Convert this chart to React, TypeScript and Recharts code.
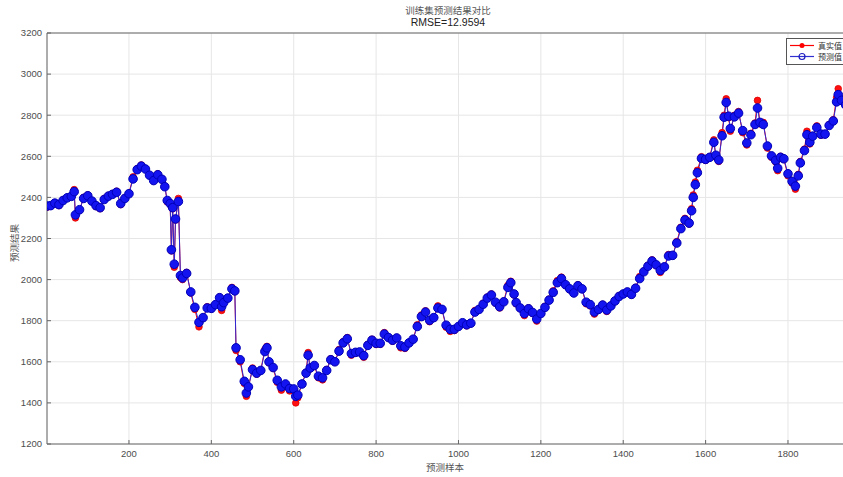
import React from 'react';
import { LineChart, Line, XAxis, YAxis, CartesianGrid } from 'recharts';

// sample numbers along the training set
const sampleNo = [
  1, 10, 20, 30, 40, 50, 60, 67, 70, 80,
  90, 100, 110, 120, 130, 140, 150, 160, 170, 180,
  190, 200, 210, 220, 230, 240, 250, 260, 270, 280,
  287, 293, 300, 303, 306, 310, 313, 320, 325, 330,
  340, 350, 360, 370, 380, 390, 400, 410, 420, 425,
  430, 440, 450, 457, 460, 470, 480, 485, 490, 500,
  510, 520, 530, 535, 540, 550, 560, 570, 580, 590,
  600, 605, 610, 620, 630, 635, 640, 650, 660, 670,
  680, 690, 700, 710, 720, 730, 740, 750, 760, 770,
  780, 790, 800, 810, 820, 830, 840, 850, 860, 870,
  880, 890, 900, 910, 920, 930, 940, 950, 960, 970,
  980, 990, 1000, 1010, 1020, 1030, 1040, 1050, 1060, 1070,
  1080, 1090, 1100, 1110, 1120, 1127, 1135, 1140, 1150, 1160,
  1170, 1180, 1190, 1200, 1210, 1220, 1230, 1240, 1250, 1260,
  1270, 1280, 1290, 1300, 1310, 1320, 1330, 1340, 1350, 1360,
  1370, 1380, 1390, 1400, 1410, 1420, 1430, 1440, 1450, 1460,
  1470, 1480, 1490, 1500, 1510, 1520, 1530, 1540, 1550, 1560,
  1566, 1570, 1575, 1580, 1590, 1600, 1610, 1620, 1625, 1632,
  1640, 1645, 1650, 1656, 1660, 1670, 1680, 1690, 1700, 1710,
  1720, 1726, 1732, 1740, 1750, 1760, 1770, 1775, 1782, 1790,
  1800, 1810, 1818, 1825, 1830, 1840, 1846, 1853, 1860, 1870,
  1880, 1890, 1900, 1910, 1918, 1922, 1930, 1940,
];

// 真实值
const actualValue = [
  2352, 2358, 2375, 2360, 2388, 2400, 2405, 2438, 2300, 2338,
  2400, 2412, 2380, 2355, 2345, 2395, 2410, 2418, 2430, 2365,
  2398, 2420, 2500, 2540, 2558, 2540, 2510, 2480, 2515, 2490,
  2455, 2378, 2365, 2140, 2345, 2060, 2290, 2395, 2010, 2000,
  2035, 1935, 1855, 1770, 1812, 1868, 1858, 1880, 1915, 1850,
  1890, 1912, 1962, 1942, 1655, 1600, 1495, 1432, 1475, 1570,
  1540, 1560, 1660, 1675, 1595, 1568, 1500, 1462, 1488, 1458,
  1460, 1400, 1425, 1495, 1548, 1645, 1565, 1580, 1522, 1512,
  1562, 1615, 1598, 1660, 1698, 1718, 1632, 1642, 1645, 1622,
  1685, 1710, 1684, 1685, 1742, 1715, 1700, 1718, 1668, 1665,
  1695, 1712, 1780, 1828, 1848, 1795, 1812, 1872, 1855, 1768,
  1748, 1752, 1772, 1790, 1775, 1785, 1850, 1858, 1885, 1915,
  1930, 1885, 1862, 1895, 1972, 1992, 1925, 1882, 1858, 1825,
  1862, 1835, 1798, 1835, 1870, 1905, 1945, 1995, 2012, 1972,
  1950, 1932, 1975, 1952, 1882, 1872, 1832, 1852, 1880, 1845,
  1875, 1900, 1922, 1932, 1942, 1925, 1962, 2015, 2042, 2070,
  2096, 2068, 2035, 2065, 2122, 2115, 2185, 2255, 2298, 2270,
  2345, 2412, 2475, 2532, 2598, 2580, 2598, 2680, 2595, 2575,
  2715, 2800, 2880, 2788, 2722, 2800, 2818, 2715, 2655, 2712,
  2762, 2872, 2758, 2765, 2640, 2595, 2572, 2530, 2600, 2585,
  2505, 2470, 2440, 2512, 2575, 2635, 2722, 2660, 2700, 2748,
  2702, 2705, 2755, 2778, 2885, 2929, 2870, 2848,
];

// 预测值
const predictedValue = [
  2358, 2360, 2372, 2365, 2385, 2398, 2405, 2428, 2315, 2340,
  2395, 2408, 2382, 2360, 2350, 2390, 2406, 2415, 2425, 2370,
  2395, 2418, 2490, 2535, 2552, 2538, 2508, 2482, 2510, 2488,
  2452, 2385, 2370, 2145, 2350, 2075, 2295, 2380, 2020, 2008,
  2030, 1940, 1865, 1792, 1815, 1862, 1860, 1878, 1912, 1868,
  1888, 1910, 1955, 1945, 1668, 1610, 1505, 1448, 1478, 1562,
  1545, 1558, 1650, 1668, 1600, 1572, 1510, 1478, 1492, 1470,
  1468, 1432, 1438, 1492, 1545, 1632, 1570, 1582, 1530, 1522,
  1558, 1610, 1600, 1652, 1692, 1712, 1640, 1646, 1648, 1630,
  1680, 1705, 1690, 1690, 1735, 1718, 1705, 1716, 1678, 1672,
  1692, 1710, 1772, 1820, 1842, 1802, 1815, 1862, 1855, 1778,
  1758, 1758, 1772, 1790, 1780, 1788, 1842, 1855, 1880, 1910,
  1925, 1890, 1868, 1892, 1962, 1985, 1930, 1888, 1862, 1835,
  1858, 1840, 1808, 1835, 1865, 1900, 1938, 1985, 2005, 1975,
  1955, 1935, 1970, 1955, 1890, 1878, 1842, 1855, 1876, 1852,
  1872, 1896, 1918, 1930, 1940, 1928, 1958, 2005, 2038, 2065,
  2090, 2072, 2045, 2062, 2115, 2118, 2178, 2248, 2290, 2275,
  2335, 2400, 2462, 2520, 2590, 2585, 2595, 2668, 2605, 2582,
  2700, 2790, 2862, 2795, 2735, 2792, 2810, 2725, 2665, 2705,
  2755, 2835, 2765, 2755, 2650, 2602, 2580, 2542, 2595, 2588,
  2515, 2478, 2455, 2505, 2568, 2628, 2705, 2668, 2698, 2740,
  2708, 2708, 2750, 2772, 2865, 2900, 2872, 2850,
];

const xTicks = [200, 400, 600, 800, 1000, 1200, 1400, 1600, 1800];
const yTicks = [1200, 1400, 1600, 1800, 2000, 2200, 2400, 2600, 2800, 3000, 3200];
const seriesNames = ['真实值', '预测值'];
const chartTitle = '训练集预测结果对比';
const rmseText = 'RMSE=12.9594';
const xLabel = '预测样本';
const yLabel = '预测结果';

const RED = '#ff0000';
const AXIS = '#666666';
const TICK_FONT = { fontSize: 9.5, fill: '#4d4d4d', fontFamily: '"Liberation Sans", Arial, sans-serif' };
const CJK = '"Noto Sans CJK SC", sans-serif';

const data = sampleNo.map((s, i) => ({
  sample: s,
  actual: actualValue[i],
  predicted: predictedValue[i],
}));

const RedDot = (props: any) => {
  const { cx, cy, index } = props;
  if (cx == null || cy == null) return <g key={`a-${index}`} />;
  return <circle key={`a-${index}`} cx={cx} cy={cy} r={3.3} fill="#ff1010" stroke="#e00000" strokeWidth={0.8} />;
};

const BlueDot = (props: any) => {
  const { cx, cy, index } = props;
  if (cx == null || cy == null) return <g key={`p-${index}`} />;
  return <circle key={`p-${index}`} cx={cx} cy={cy} r={4.3} fill="#1414f0" stroke="#0000b8" strokeWidth={1} />;
};

function LegendBox() {
  return (
    <div
      style={{
        position: 'absolute',
        left: 786,
        top: 38,
        width: 80,
        height: 25,
        border: '1px solid #555',
        background: '#fff',
        fontFamily: CJK,
        fontSize: 8,
        color: '#333',
      }}
    >
      {seriesNames.map((name, i) => (
        <div key={name} style={{ position: 'absolute', left: 0, top: 1 + i * 11, height: 11, width: 80 }}>
          <svg width={30} height={11} style={{ position: 'absolute', left: 2, top: 0 }}>
            <line x1={1} y1={5.5} x2={25} y2={5.5} stroke={i === 0 ? RED : '#3030d0'} strokeWidth={1.2} />
            {i === 0 ? (
              <circle cx={13} cy={5.5} r={2.5} fill={RED} />
            ) : (
              <circle cx={13} cy={5.5} r={3} fill="none" stroke="#2020c0" strokeWidth={1.2} />
            )}
          </svg>
          <span style={{ position: 'absolute', left: 31, top: 0, lineHeight: '11px', whiteSpace: 'nowrap' }}>{name}</span>
        </div>
      ))}
    </div>
  );
}

export default function App() {
  return (
    <div
      style={{
        position: 'fixed',
        left: 0,
        top: 0,
        width: 843,
        height: 477,
        overflow: 'hidden',
        background: '#fff',
      }}
    >
      <div
        style={{
          position: 'absolute',
          left: 448,
          top: 4,
          transform: 'translateX(-50%)',
          fontFamily: CJK,
          fontSize: 9.5,
          color: '#555',
          whiteSpace: 'nowrap',
          lineHeight: '12px',
        }}
      >
        {chartTitle}
      </div>
      <div
        style={{
          position: 'absolute',
          left: 448,
          top: 16,
          transform: 'translateX(-50%)',
          fontFamily: '"Liberation Sans", Arial, sans-serif',
          fontSize: 10.5,
          color: '#222',
          whiteSpace: 'nowrap',
          lineHeight: '13px',
        }}
      >
        {rmseText}
      </div>

      <LineChart width={870} height={477} data={data} margin={{ top: 32, right: 12, bottom: 0, left: 0 }}>
        <CartesianGrid stroke="#e6e6e6" strokeWidth={1} />
        <XAxis
          dataKey="sample"
          type="number"
          domain={[1, 1970]}
          ticks={xTicks}
          allowDataOverflow
          height={33}
          stroke={AXIS}
          tickSize={-4}
          tickMargin={10}
          tick={TICK_FONT}
          axisLine={{ stroke: AXIS }}
          tickLine={{ stroke: AXIS }}
        />
        <XAxis
          xAxisId="top"
          orientation="top"
          dataKey="sample"
          type="number"
          domain={[1, 1970]}
          ticks={xTicks}
          allowDataOverflow
          height={1}
          tick={false}
          tickSize={-4}
          axisLine={{ stroke: AXIS }}
          tickLine={{ stroke: AXIS }}
        />
        <YAxis
          type="number"
          domain={[1200, 3200]}
          ticks={yTicks}
          allowDataOverflow
          width={47}
          tickSize={-4}
          tickMargin={9}
          tick={TICK_FONT}
          axisLine={{ stroke: AXIS }}
          tickLine={{ stroke: AXIS }}
        />
        <Line
          dataKey="actual"
          stroke={RED}
          strokeWidth={1}
          dot={RedDot}
          activeDot={false}
          isAnimationActive={false}
        />
        <Line
          dataKey="predicted"
          stroke="#2a2ad8"
          strokeWidth={1}
          dot={BlueDot}
          activeDot={false}
          isAnimationActive={false}
        />
      </LineChart>

      <LegendBox />

      <div
        style={{
          position: 'absolute',
          left: 445,
          top: 461,
          transform: 'translateX(-50%)',
          fontFamily: CJK,
          fontSize: 9.5,
          color: '#555',
          whiteSpace: 'nowrap',
          lineHeight: '12px',
        }}
      >
        {xLabel}
      </div>
      <div
        style={{
          position: 'absolute',
          left: 14,
          top: 243,
          transform: 'translate(-50%, -50%) rotate(-90deg)',
          fontFamily: CJK,
          fontSize: 9.5,
          color: '#555',
          whiteSpace: 'nowrap',
          lineHeight: '12px',
        }}
      >
        {yLabel}
      </div>
    </div>
  );
}
